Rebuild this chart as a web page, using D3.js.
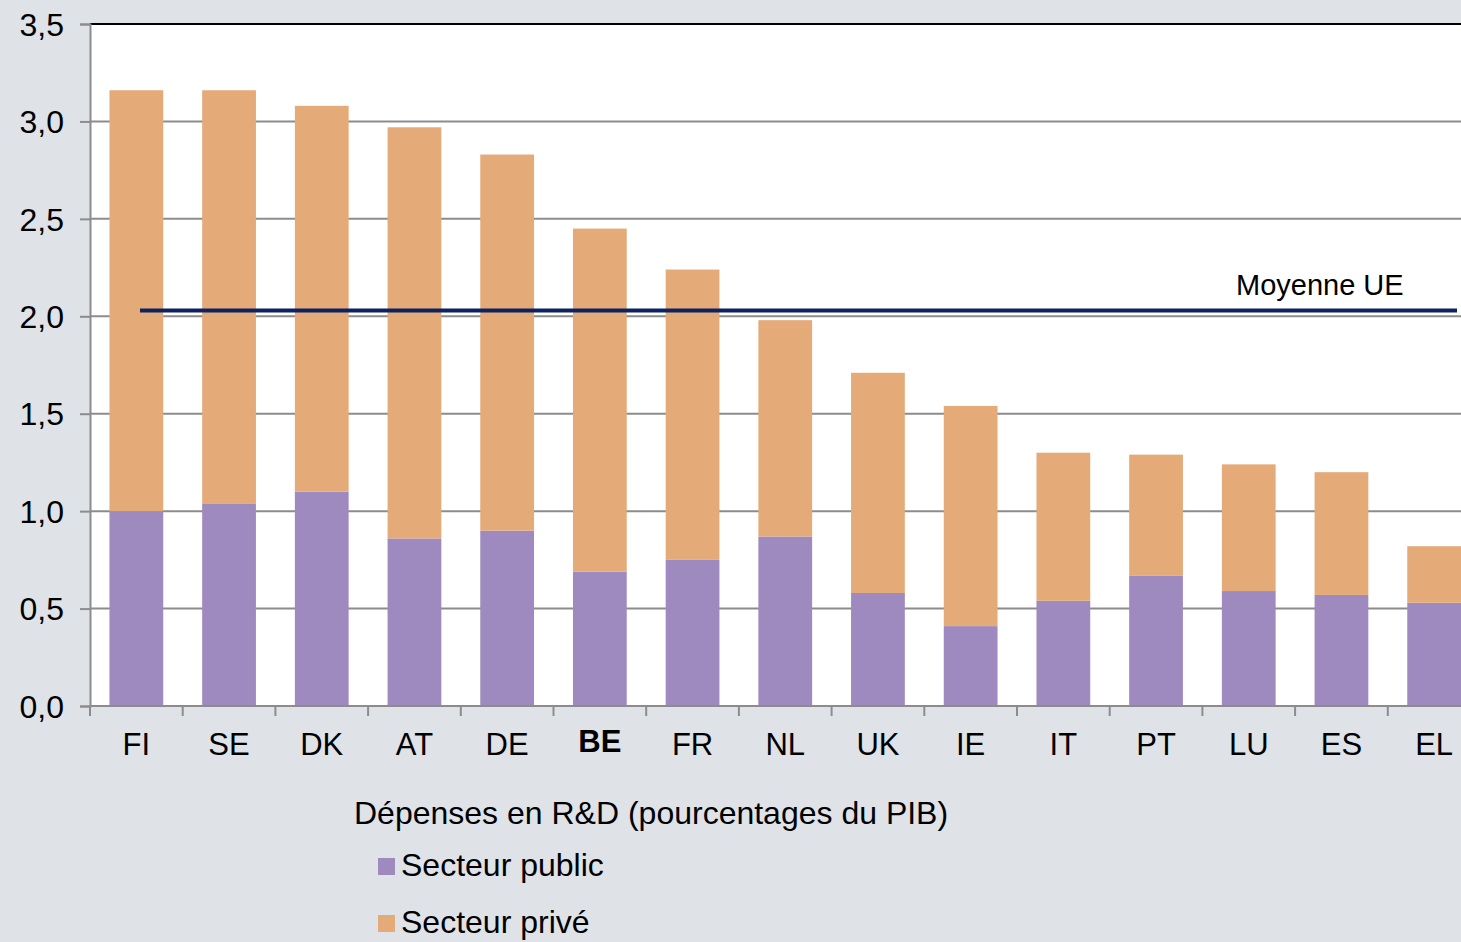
<!DOCTYPE html>
<html>
<head>
<meta charset="utf-8">
<script src="https://cdn.jsdelivr.net/npm/d3@7"></script>
<style>
  body { margin: 0; background: #dfe3e8; overflow: hidden; }
  svg { display: block; font-family: "Liberation Sans", Arial, sans-serif; }
</style>
</head>
<body>
<svg id="chart"></svg>
<script>
// Data
var countries = ["FI", "SE", "DK", "AT", "DE", "BE", "FR", "NL", "UK", "IE", "IT", "PT", "LU", "ES", "EL"];
var publicSector = [1.00, 1.04, 1.10, 0.86, 0.90, 0.69, 0.75, 0.87, 0.58, 0.41, 0.54, 0.67, 0.59, 0.57, 0.53];
var privateSector = [2.16, 2.12, 1.98, 2.11, 1.93, 1.76, 1.49, 1.11, 1.13, 1.13, 0.76, 0.62, 0.65, 0.63, 0.29];
var euAverage = 2.03;
var yTicks = [0, 0.5, 1, 1.5, 2, 2.5, 3, 3.5];

var width = 1461, height = 942;
var svg = d3.select("#chart").attr("width", width).attr("height", height);

var plotLeft = 90, plotTop = 24, plotBottom = 706;
var step = 92.7;
var plotRight = plotLeft + step * countries.length;

var x = d3.scaleBand()
    .domain(countries)
    .range([plotLeft, plotRight])
    .paddingInner(0.42)
    .paddingOuter(0.21);

var y = d3.scaleLinear()
    .domain([0, 3.5])
    .range([plotBottom, plotTop]);

var fmt = d => d3.format(".1f")(d).replace(".", ",");

// plot background
svg.append("rect")
    .attr("x", plotLeft).attr("y", plotTop)
    .attr("width", plotRight - plotLeft).attr("height", plotBottom - plotTop)
    .attr("fill", "#ffffff");

// gridlines
svg.append("g").selectAll("line")
    .data(yTicks.filter(t => t > 0 && t < 3.5))
    .join("line")
    .attr("x1", plotLeft).attr("x2", plotRight)
    .attr("y1", d => y(d)).attr("y2", d => y(d))
    .attr("stroke", "#8c8c8c").attr("stroke-width", 2);

// top border
svg.append("line")
    .attr("x1", plotLeft).attr("x2", plotRight)
    .attr("y1", y(3.5)).attr("y2", y(3.5))
    .attr("stroke", "#000").attr("stroke-width", 2);

// stacked bars
var rows = countries.map((c, i) => ({ c: c, pub: publicSector[i], priv: privateSector[i] }));

svg.append("g").selectAll("rect")
    .data(rows)
    .join("rect")
    .attr("x", d => x(d.c))
    .attr("width", x.bandwidth())
    .attr("y", d => y(d.pub))
    .attr("height", d => y(0) - y(d.pub))
    .attr("fill", "#9e8abe");

svg.append("g").selectAll("rect")
    .data(rows)
    .join("rect")
    .attr("x", d => x(d.c))
    .attr("width", x.bandwidth())
    .attr("y", d => y(d.pub + d.priv))
    .attr("height", d => y(d.pub) - y(d.pub + d.priv))
    .attr("fill", "#e4ab79");

// y axis
var yAxis = svg.append("g")
    .attr("transform", "translate(" + plotLeft + ",0)")
    .call(d3.axisLeft(y).tickValues(yTicks).tickFormat(fmt).tickSize(10).tickPadding(16));
yAxis.select(".domain").attr("stroke", "#8c8c8c").attr("stroke-width", 2);
yAxis.selectAll(".tick line").attr("stroke", "#8c8c8c").attr("stroke-width", 2);
yAxis.selectAll(".tick text")
    .attr("fill", "#000").style("font-size", "32px")
    .attr("font-family", null)
    .attr("dy", "0.35em");

// x axis baseline and ticks between categories
svg.append("line")
    .attr("x1", plotLeft).attr("x2", plotRight)
    .attr("y1", plotBottom).attr("y2", plotBottom)
    .attr("stroke", "#8c8c8c").attr("stroke-width", 2);

svg.append("g").selectAll("line")
    .data(d3.range(countries.length + 1))
    .join("line")
    .attr("x1", i => plotLeft + i * step).attr("x2", i => plotLeft + i * step)
    .attr("y1", plotBottom).attr("y2", plotBottom + 10)
    .attr("stroke", "#8c8c8c").attr("stroke-width", 2);

svg.append("g").selectAll("text")
    .data(countries)
    .join("text")
    .attr("x", d => x(d) + x.bandwidth() / 2)
    .attr("y", d => d === "BE" ? 752 : 755)
    .attr("text-anchor", "middle")
    .style("font-size", "31px")
    .style("font-weight", d => d === "BE" ? "bold" : "normal")
    .text(d => d);

// EU average line
svg.append("line")
    .attr("x1", 140).attr("x2", 1457)
    .attr("y1", y(euAverage)).attr("y2", y(euAverage))
    .attr("stroke", "#0d2260").attr("stroke-width", 4);

svg.append("text")
    .attr("x", 1236).attr("y", 295)
    .style("font-size", "29px")
    .text("Moyenne UE");

// legend
svg.append("text")
    .attr("x", 354).attr("y", 824)
    .style("font-size", "32px")
    .text("Dépenses en R&D (pourcentages du PIB)");

var legend = [["Secteur public", "#9e8abe"], ["Secteur privé", "#e4ab79"]];
var lg = svg.append("g").selectAll("g")
    .data(legend)
    .join("g")
    .attr("transform", (d, i) => "translate(378," + (858 + i * 57) + ")");
lg.append("rect")
    .attr("width", 17).attr("height", 17)
    .attr("fill", d => d[1]);
lg.append("text")
    .attr("x", 23).attr("y", 18)
    .style("font-size", "32px")
    .text(d => d[0]);
</script>
</body>
</html>
